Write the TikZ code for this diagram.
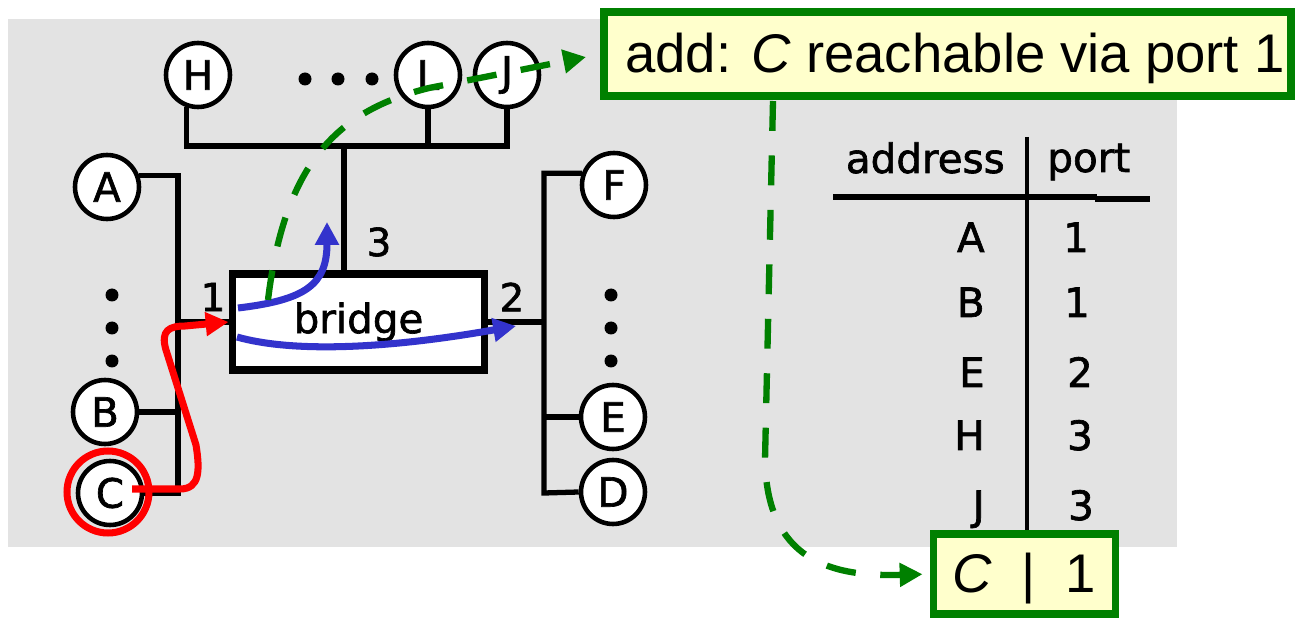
\documentclass[tikz,border=0pt]{standalone}
\usepackage{fontspec}
\setmainfont{DejaVu Sans}
\newfontfamily\heavy{DejaVu Sans}[FakeBold=1.6]
\newfontfamily\notefont{Liberation Sans}
\usetikzlibrary{arrows.meta}
\definecolor{panel}{RGB}{227,227,227}
\definecolor{gr}{RGB}{0,128,0}
\definecolor{blu}{RGB}{51,51,204}
\definecolor{notey}{RGB}{255,255,204}
\tikzset{
  host/.style={circle,draw=black,fill=white,line width=2.6pt,minimum size=1.28cm,inner sep=0pt,font=\heavy\fontsize{23}{27}\selectfont},
  wire/.style={line width=3pt,black},
  lbl/.style={inner sep=0pt,font=\heavy\fontsize{22}{26}\selectfont},
  tbl/.style={inner sep=0pt,font=\heavy\fontsize{23}{27}\selectfont},
  dotmark/.style={black},
  note/.style={draw=gr,fill=notey,line width=4.5pt,inner sep=0pt},
  notetxt/.style={inner sep=0pt,font=\notefont\fontsize{31}{36}\selectfont},
  gdash/.style={gr,line width=3.6pt,dash pattern=on 17pt off 14pt,-{Triangle[length=13pt,width=13pt]}},
  bluearrow/.style={blu,line width=4pt,-{Triangle[length=13pt,width=13pt]}},
  redarrow/.style={red,line width=4pt,-{Triangle[length=13pt,width=13pt]}},
}
\begin{document}
\begin{tikzpicture}[x=0.02cm,y=-0.02cm]
\useasboundingbox (0,0) rectangle (1296,618);
\fill[white] (0,0) rectangle (1296,618);
\fill[panel] (8,19) rectangle (1177,547);

% hosts
\node[host] (H) at (198,75) {H};
\node[host] (L) at (428,75) {L};
\node[host] (J) at (507,75) {J};
\node[host] (A) at (107,187) {A};
\node[host] (B) at (105,412) {B};
\node[host] (C) at (110,493) {C};
\node[host] (F) at (614,185) {F};
\node[host] (E) at (613,417) {E};
\node[host] (D) at (613,492) {D};

% bridge
\node[draw=black,fill=white,line width=4pt,minimum width=5.06cm,minimum height=1.92cm,inner sep=0pt,font=\heavy\fontsize{23}{27}\selectfont] (bridge) at (358.5,322) {bridge};

% wires
\coordinate (bus3) at (344,146);
\coordinate (lb) at (178,493);
\coordinate (rb) at (544,493);
\draw[wire] (H.250) |- (bus3) -| (J.south);
\draw[wire] (L.south) -- (L.south |- bus3);
\draw[wire] (bus3) -- (bus3 |- bridge.north);
\draw[wire] (A.20) -| (lb) -- (C.east);
\draw[wire] (B.east) -- (B.east -| lb);
\draw[wire] (bridge.west) -- (bridge.west -| lb);
\draw[wire] (F.160) -| (rb) -- (D.west);
\draw[wire] (E.west) -- (E.west -| rb);
\draw[wire] (bridge.east) -- (bridge.east -| rb);

% dots
\foreach \yy in {295,328,361} {
  \fill[dotmark] (112,\yy) circle [radius=0.13cm];
  \fill[dotmark] (611,\yy) circle [radius=0.13cm];
}
\foreach \xx in {305,338,372} {
  \fill[dotmark] (\xx,79) circle [radius=0.13cm];
}

% port labels
\node[lbl] (p1) at (213,297) {1};
\node[lbl] (p2) at (512,297) {2};
\node[lbl] (p3) at (379,242) {3};

% table
\draw[line width=2.8pt] (1027,137) -- (1027,531);
\draw[line width=3.4pt] (833,197) -- (1097,197);
\draw[line width=3.4pt] (1095,199) -- (1150,199);
\node[tbl,anchor=base east] (haddr) at (1005,173) {address};
\node[tbl,anchor=base west] (hport) at (1047,172) {port};
\node[tbl,anchor=base east] (rA) at (985,252) {A};
\node[tbl,anchor=base] (pA) at (1076,252) {1};
\node[tbl,anchor=base east] (rB) at (985,317) {B};
\node[tbl,anchor=base] (pB) at (1077,317) {1};
\node[tbl,anchor=base east] (rE) at (985,387) {E};
\node[tbl,anchor=base] (pE) at (1080,387) {2};
\node[tbl,anchor=base east] (rH) at (985,450) {H};
\node[tbl,anchor=base] (pH) at (1080,450) {3};
\node[tbl,anchor=base east] (rJ) at (985,520) {J};
\node[tbl,anchor=base] (pJ) at (1081,520) {3};

% notes
\node[note,minimum width=13.74cm,minimum height=1.68cm] (note) at (947.5,54) {};
\node[notetxt,anchor=base] (notetext) at (955,73) {add: \textit{C} reachable via port 1};
\node[note,minimum width=3.64cm,minimum height=1.61cm] (cbox) at (1024.5,574) {};
\node[notetxt,anchor=base] (cboxtext) at (1024,592) {\textit{C}\hspace{17pt}|\hspace{17pt}1};

% red path
\draw[red,line width=4pt] (108,492) circle [radius=0.82cm];
\coordinate (rs) at (132,489);
\draw[redarrow] (rs) -- (180,489) .. controls (200,489) and (200,470) .. (196,445) -- (166,350) .. controls (160,330) and (170,326) .. (185,326) -- (bridge.west);

% blue paths
\coordinate (b1s) at (238,308);
\coordinate (b1e) at (327,222);
\coordinate (b2s) at (237,337);
\coordinate (b2e) at (516,326);
\draw[bluearrow] (b1s) .. controls (305,300) and (327,285) .. (b1e);
\draw[bluearrow] (b2s) .. controls (290,352) and (380,350) .. (b2e);

% green dashed paths
\coordinate (g1s) at (268,300);
\coordinate (g1m) at (429,88);
\coordinate (g1e) at (586,57);
\draw[gdash] (g1s) .. controls (285,160) and (340,110) .. (g1m) -- (g1e);
\coordinate (g2s) at (773,101);
\draw[gdash,shorten >=4pt] (g2s) -- (765,460) .. controls (767,560) and (830,577) .. (cbox.west);
\end{tikzpicture}
\end{document}
